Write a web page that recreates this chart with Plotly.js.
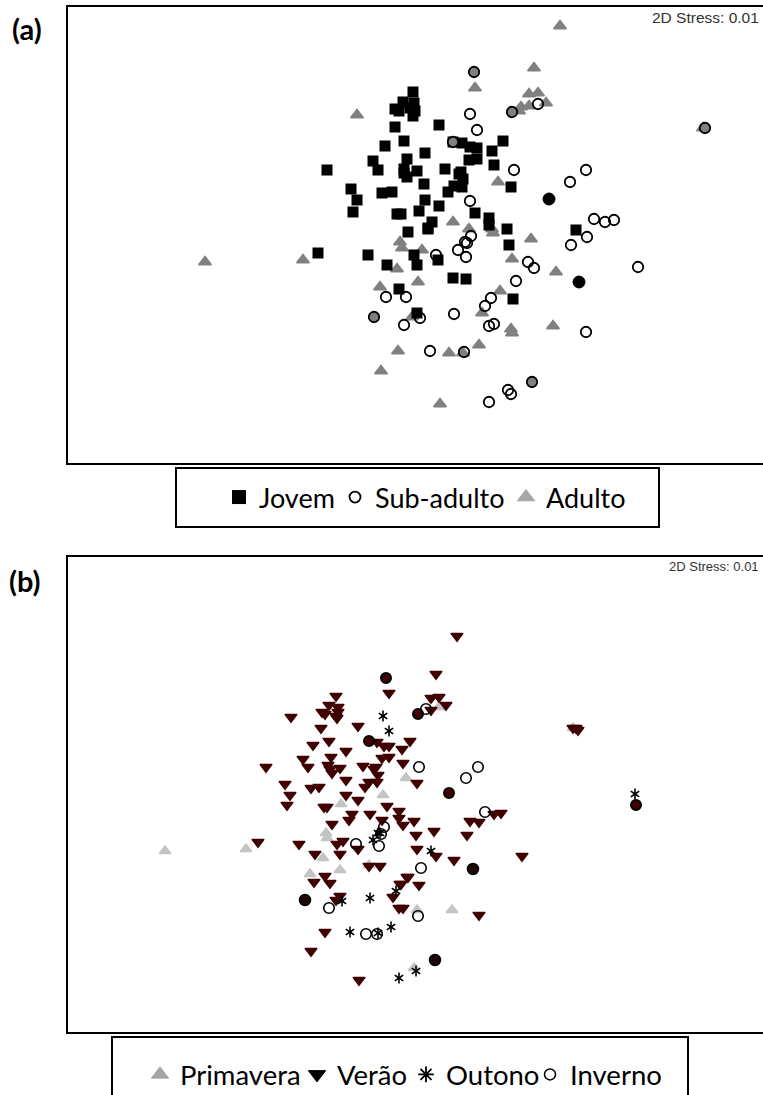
<!DOCTYPE html>
<html><head><meta charset="utf-8">
<script src="https://cdn.plot.ly/plotly-3.0.1.min.js"></script>
<style>html,body{margin:0;padding:0;background:#fff;overflow:hidden}</style></head>
<body><div id="chart" style="width:763px;height:1095px"></div>
<script>
// Panel (a): ordination scores
const jovemX=[413,403,414,395,399,410,415,413,395,439,385,404,425,453,462,470,477,469,477,327,373,378,407,404,404,407,417,445,461,459,463,454,462,448,424,392,382,351,357,353,425,439,419,397,401,475,432,428,408,503,492,494,511,489,489,507,576,428,318,368,387,414,417,438,453,466,399,417,513,509];
const jovemY=[92,102,103,109,111,108,111,116,127,125,146,141,153,142,143,147,148,160,159,170,161,170,159,169,173,177,171,169,172,174,179,186,187,192,184,192,193,189,200,212,200,206,211,214,214,213,222,228,232,141,151,165,187,218,225,229,230,229,253,255,265,255,265,260,278,279,289,313,299,245];
const subX=[470,477,470,538,514,586,570,594,605,614,471,465,467,458,466,436,587,571,528,534,638,516,491,485,454,489,494,586,464,430,508,511,489,386,406,420,404];
const subY=[114,130,201,104,170,170,182,219,222,220,236,242,243,250,257,255,237,245,262,268,267,281,298,306,314,326,324,332,352,351,390,394,402,297,297,318,325];
const adultoX=[357,453,469,475,560,534,529,538,546,521,529,519,498,703,492,205,303,400,402,422,397,418,380,412,398,381,440,449,463,479,493,531,512,556,500,482,511,512,553];
const adultoY=[115,222,229,88,26,68,94,93,103,107,106,111,182,128,229,262,260,242,248,250,269,282,287,317,351,371,404,353,353,345,233,239,259,272,291,313,329,333,326];
const mixGreyX=[474,512,453,374,532,705];
const mixGreyY=[72,112,142,317,382,128];
const mixBlackX=[549,579];
const mixBlackY=[199,282];
// Panel (b)
const veraoX=[336,329,338,322,325,338,336,337,291,321,358,329,313,346,303,331,308,328,330,332,340,363,346,266,285,311,319,290,287,324,327,346,358,365,369,377,378,374,376,377,384,389,382,389,402,403,410,389,387,399,399,370,352,349,382,457,436,439,431,446,431,573,578,576,417,414,470,494,501,258,299,332,403,343,337,358,340,315,369,380,325,314,330,407,401,393,340,336,399,403,325,311,359,479,467,434,416,417,436,454,522,408,400,419,479];
const veraoY=[696,705,707,712,714,712,716,718,717,728,726,741,745,751,759,757,767,765,769,773,768,766,780,767,784,788,787,795,805,807,807,795,800,787,782,782,775,769,767,742,746,746,758,757,749,763,741,693,806,811,818,814,814,820,820,636,674,697,698,705,710,728,730,728,783,821,821,814,813,842,844,824,825,841,844,849,854,854,866,866,876,882,883,877,884,897,896,900,908,908,932,951,980,822,835,831,835,849,856,860,856,877,884,885,915];
const primaveraX=[406,383,341,439,573,165,246,326,327,323,340,310,369,417,452,414];
const primaveraY=[778,795,804,707,728,851,849,833,838,858,870,874,865,910,910,968];
const outonoX=[383,389,635,373,378,380,342,370,396,350,378,391,399,431,416];
const outonoY=[716,731,794,840,833,833,901,898,891,932,933,927,978,851,971];
const invernoX=[426,419,466,478,485,356,384,381,379,329,366,377,421,418];
const invernoY=[709,767,778,767,812,844,827,834,846,908,934,934,868,916];
const mixDarkX=[386,418,369,449,636];
const mixDarkY=[678,714,741,793,805];
const mixNearBlackX=[473,305,435];
const mixNearBlackY=[869,900,960];
const legendA=['Jovem','Sub-adulto','Adulto'];
const legendB=['Primavera','Verão','Outono','Inverno'];
const stressLabel='2D Stress: 0.01';

const W=763,H=1095;
const pts=(x,y,sym,size,color,lw,lc,name,ax)=>({type:'scatter',mode:'markers',x,y,name,xaxis:'x'+ax,yaxis:'y'+ax,
  showlegend:false,hoverinfo:'skip',marker:{symbol:sym,size,color,line:{width:lw,color:lc||color}}});
const key=(name,sym,size,color,lw,legend,ax)=>({type:'scatter',mode:'markers',x:[null],y:[null],name,legend,showlegend:true,
  xaxis:'x'+ax,yaxis:'y'+ax,hoverinfo:'skip',marker:{symbol:sym,size,color,line:{width:lw,color}}});
const G='#808080',LG='#c4c4c4',DR='#400000';
const data=[
 pts(adultoX,adultoY,'triangle-up',11,G,1.6,G,legendA[2],''),
 pts(subX,subY,'circle-open',10.5,'#000',1.8,'#000',legendA[1],''),
 pts(jovemX,jovemY,'square',11,'#000',0,'#000',legendA[0],''),
 pts(mixGreyX,mixGreyY,'circle',10.5,G,1.8,'#000','Adulto + Sub-adulto',''),
 pts(mixBlackX,mixBlackY,'circle',12,'#000',1,'#000','Jovem + Sub-adulto',''),
 key(legendA[0],'square',14,'#000',0,'legend',''),
 key(legendA[1],'circle-open',11,'#000',1.8,'legend2',''),
 key(legendA[2],'triangle-up',15,'#a6a6a6',1,'legend3',''),
 pts(primaveraX,primaveraY,'triangle-up',10,LG,1.4,LG,legendB[0],'2'),
 pts(veraoX,veraoY,'triangle-down',10.5,DR,1.4,DR,legendB[1],'2'),
 pts(invernoX,invernoY,'circle-open',10.5,'#000',1.6,'#000',legendB[3],'2'),
 pts(outonoX,outonoY,'y-up-open',7,'#000',1.6,'#000',legendB[2],'2'),
 pts(outonoX,outonoY,'y-down-open',7,'#000',1.6,'#000',legendB[2],'2'),
 pts(mixDarkX,mixDarkY,'circle',10,DR,2,'#000','Verão + Inverno','2'),
 pts(mixNearBlackX,mixNearBlackY,'circle',11,'#1c0606',1.5,'#000','Verão + Inverno','2'),
 key(legendB[0],'triangle-up',15,'#a6a6a6',1,'legend4','2'),
 key(legendB[1],'triangle-down',15,'#000',1,'legend5','2'),
 key(legendB[2],'asterisk-open',13,'#000',1.8,'legend6','2'),
 key(legendB[3],'circle-open',11,'#000',1.5,'legend7','2')
];
const ax=(dom,range)=>({domain:dom,range,visible:false,fixedrange:true});
const px=v=>v/W, py=v=>1-v/H;
const frame=(x0,y0,x1,y1)=>({type:'rect',xref:'paper',yref:'paper',x0:px(x0),x1:px(x1),y0:py(y1),y1:py(y0),line:{color:'#000',width:2},fillcolor:'rgba(0,0,0,0)',layer:'above'});
const note=(text,x,y,size,color,family,bold,xa)=>({text:bold?'<b>'+text+'</b>':text,xref:'paper',yref:'paper',x:px(x),y:py(y),xanchor:xa||'left',yanchor:'middle',showarrow:false,font:{size,color,family},borderpad:0});
const leg=(x,y,size)=>({orientation:'h',x:px(x),y:py(y),xanchor:'left',yanchor:'top',bgcolor:'rgba(0,0,0,0)',borderwidth:0,font:{family:'Lato, Carlito, sans-serif',size,color:'#000'},itemclick:false,itemdoubleclick:false,itemsizing:'trace',traceorder:'normal',tracegroupgap:0});
const layout={width:W,height:H,margin:{l:0,r:0,t:0,b:0,autoexpand:false},paper_bgcolor:'#fff',plot_bgcolor:'#fff',showlegend:true,
 xaxis:ax([px(67),1],[67,763]),yaxis:ax([py(464),py(6)],[464,6]),
 xaxis2:Object.assign(ax([px(67),1],[67,763]),{anchor:'y2'}),yaxis2:Object.assign(ax([py(1033),py(556)],[1033,556]),{anchor:'x2'}),
 legend:leg(219,473,27),legend2:leg(335,473,27),legend3:leg(506,473,27),
 legend4:leg(140,1050,27.5),legend5:leg(297,1050,27.5),legend6:leg(406,1050,27.5),legend7:leg(530,1050,27.5),
 shapes:[frame(67,6,800,464),frame(176,468,659,527),frame(67,556,800,1033),frame(112,1037,688,1130)],
 annotations:[note('(a)',11,28,29,'#000','Lato, Carlito, sans-serif',true),note('(b)',8,580,29,'#000','Lato, Carlito, sans-serif',true),
  note(stressLabel,760,17,15.5,'#333','Liberation Sans, Arial, sans-serif',false,'right'),note(stressLabel,760,566,13,'#333','Liberation Sans, Arial, sans-serif',false,'right')]};
Plotly.newPlot('chart',data,layout,{staticPlot:true,displayModeBar:false});
</script></body></html>
